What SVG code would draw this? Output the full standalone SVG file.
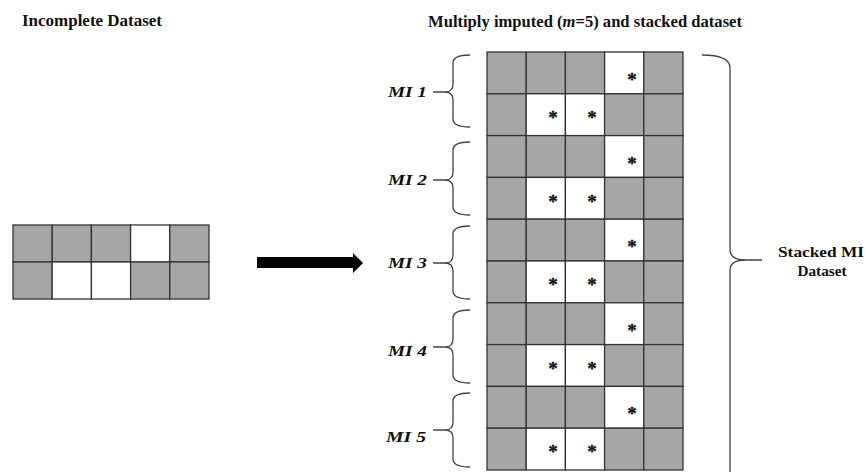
<svg xmlns="http://www.w3.org/2000/svg" width="865" height="472" viewBox="0 0 865 472">
<style>
.g{fill:#a6a6a6;stroke:#333;stroke-width:1.3}
.w{fill:#fff;stroke:#333;stroke-width:1.3}
.t{font-family:"Liberation Serif","DejaVu Serif",serif;font-weight:bold;fill:#111}
.lab{font-family:"Liberation Serif","DejaVu Serif",serif;font-weight:bold;font-style:italic;font-size:15px;fill:#111}
.st{font-family:"Liberation Serif","DejaVu Serif",serif;font-weight:bold;font-size:19px;fill:#111;stroke:#111;stroke-width:0.3;text-anchor:middle}
.br{fill:none;stroke:#444;stroke-width:1.3}
</style>
<rect width="865" height="472" fill="#fff"/>
<g id="titles">
<text class="t" x="22" y="26" font-size="16" textLength="140" lengthAdjust="spacingAndGlyphs">Incomplete Dataset</text>
<text class="t" x="428" y="27" font-size="16" textLength="314" lengthAdjust="spacingAndGlyphs">Multiply imputed (<tspan font-style="italic">m</tspan>=5) and stacked dataset</text>
</g>
<g id="incomplete">
<rect class="g" x="13" y="225" width="39.2" height="37"/>
<rect class="g" x="52.2" y="225" width="39.2" height="37"/>
<rect class="g" x="91.4" y="225" width="39.2" height="37"/>
<rect class="w" x="130.6" y="225" width="39.2" height="37"/>
<rect class="g" x="169.8" y="225" width="39.2" height="37"/>
<rect class="g" x="13" y="262" width="39.2" height="37"/>
<rect class="w" x="52.2" y="262" width="39.2" height="37"/>
<rect class="w" x="91.4" y="262" width="39.2" height="37"/>
<rect class="g" x="130.6" y="262" width="39.2" height="37"/>
<rect class="g" x="169.8" y="262" width="39.2" height="37"/>
</g>
<g id="mi1">
<rect class="g" x="487" y="52" width="39.2" height="41.8"/><rect class="g" x="526.2" y="52" width="39.2" height="41.8"/><rect class="g" x="565.4" y="52" width="39.2" height="41.8"/><rect class="w" x="604.6" y="52" width="39.2" height="41.8"/><rect class="g" x="643.8" y="52" width="39.2" height="41.8"/>
<rect class="g" x="487" y="93.8" width="39.2" height="41.8"/><rect class="w" x="526.2" y="93.8" width="39.2" height="41.8"/><rect class="w" x="565.4" y="93.8" width="39.2" height="41.8"/><rect class="g" x="604.6" y="93.8" width="39.2" height="41.8"/><rect class="g" x="643.8" y="93.8" width="39.2" height="41.8"/>
<text class="st" x="632" y="86">*</text><text class="st" x="553" y="124">*</text><text class="st" x="592" y="124">*</text>
<text class="lab" x="388" y="97" textLength="39" lengthAdjust="spacingAndGlyphs">MI 1</text>
</g>
<g id="mi2">
<rect class="g" x="487" y="135.6" width="39.2" height="41.8"/><rect class="g" x="526.2" y="135.6" width="39.2" height="41.8"/><rect class="g" x="565.4" y="135.6" width="39.2" height="41.8"/><rect class="w" x="604.6" y="135.6" width="39.2" height="41.8"/><rect class="g" x="643.8" y="135.6" width="39.2" height="41.8"/>
<rect class="g" x="487" y="177.4" width="39.2" height="41.8"/><rect class="w" x="526.2" y="177.4" width="39.2" height="41.8"/><rect class="w" x="565.4" y="177.4" width="39.2" height="41.8"/><rect class="g" x="604.6" y="177.4" width="39.2" height="41.8"/><rect class="g" x="643.8" y="177.4" width="39.2" height="41.8"/>
<text class="st" x="632" y="169.6">*</text><text class="st" x="553" y="207.6">*</text><text class="st" x="592" y="207.6">*</text>
<text class="lab" x="388" y="185" textLength="39" lengthAdjust="spacingAndGlyphs">MI 2</text>
</g>
<g id="mi3">
<rect class="g" x="487" y="219.2" width="39.2" height="41.8"/><rect class="g" x="526.2" y="219.2" width="39.2" height="41.8"/><rect class="g" x="565.4" y="219.2" width="39.2" height="41.8"/><rect class="w" x="604.6" y="219.2" width="39.2" height="41.8"/><rect class="g" x="643.8" y="219.2" width="39.2" height="41.8"/>
<rect class="g" x="487" y="261" width="39.2" height="41.8"/><rect class="w" x="526.2" y="261" width="39.2" height="41.8"/><rect class="w" x="565.4" y="261" width="39.2" height="41.8"/><rect class="g" x="604.6" y="261" width="39.2" height="41.8"/><rect class="g" x="643.8" y="261" width="39.2" height="41.8"/>
<text class="st" x="632" y="253.2">*</text><text class="st" x="553" y="291.2">*</text><text class="st" x="592" y="291.2">*</text>
<text class="lab" x="388" y="268" textLength="39" lengthAdjust="spacingAndGlyphs">MI 3</text>
</g>
<g id="mi4">
<rect class="g" x="487" y="302.8" width="39.2" height="41.8"/><rect class="g" x="526.2" y="302.8" width="39.2" height="41.8"/><rect class="g" x="565.4" y="302.8" width="39.2" height="41.8"/><rect class="w" x="604.6" y="302.8" width="39.2" height="41.8"/><rect class="g" x="643.8" y="302.8" width="39.2" height="41.8"/>
<rect class="g" x="487" y="344.6" width="39.2" height="41.8"/><rect class="w" x="526.2" y="344.6" width="39.2" height="41.8"/><rect class="w" x="565.4" y="344.6" width="39.2" height="41.8"/><rect class="g" x="604.6" y="344.6" width="39.2" height="41.8"/><rect class="g" x="643.8" y="344.6" width="39.2" height="41.8"/>
<text class="st" x="632" y="336.8">*</text><text class="st" x="553" y="374.8">*</text><text class="st" x="592" y="374.8">*</text>
<text class="lab" x="388" y="356" textLength="39" lengthAdjust="spacingAndGlyphs">MI 4</text>
</g>
<g id="mi5">
<rect class="g" x="487" y="386.4" width="39.2" height="41.8"/><rect class="g" x="526.2" y="386.4" width="39.2" height="41.8"/><rect class="g" x="565.4" y="386.4" width="39.2" height="41.8"/><rect class="w" x="604.6" y="386.4" width="39.2" height="41.8"/><rect class="g" x="643.8" y="386.4" width="39.2" height="41.8"/>
<rect class="g" x="487" y="428.2" width="39.2" height="41.8"/><rect class="w" x="526.2" y="428.2" width="39.2" height="41.8"/><rect class="w" x="565.4" y="428.2" width="39.2" height="41.8"/><rect class="g" x="604.6" y="428.2" width="39.2" height="41.8"/><rect class="g" x="643.8" y="428.2" width="39.2" height="41.8"/>
<text class="st" x="632" y="420.4">*</text><text class="st" x="553" y="458.4">*</text><text class="st" x="592" y="458.4">*</text>
<text class="lab" x="386" y="442" textLength="40" lengthAdjust="spacingAndGlyphs">MI 5</text>
</g>
<g id="stacked-label">
<text class="t" x="821" y="257" font-size="15" text-anchor="middle" textLength="86" lengthAdjust="spacingAndGlyphs">Stacked MI</text>
<text class="t" x="822" y="276" font-size="15" text-anchor="middle" textLength="49" lengthAdjust="spacingAndGlyphs">Dataset</text>
</g>
<g id="connectors">
<polygon points="257,257 353,257 353,253 363,263 353,273 353,268 257,268" fill="#000"/>
<path class="br" d="M470,55 Q453,55 453,63 L453,84 Q453,92 445,92 Q453,92 453,100 L453,119 Q453,127 470,127 M433,92 H445"/>
<path class="br" d="M470,142 Q453,142 453,150 L453,172 Q453,180 445,180 Q453,180 453,188 L453,207 Q453,215 470,215 M433,180 H445"/>
<path class="br" d="M470,226 Q453,226 453,234 L453,255 Q453,263 445,263 Q453,263 453,271 L453,291 Q453,299 470,299 M433,263 H445"/>
<path class="br" d="M470,310 Q453,310 453,318 L453,339 Q453,347 445,347 Q453,347 453,355 L453,375 Q453,383 470,383 M433,347 H445"/>
<path class="br" d="M470,393 Q453,393 453,401 L453,422 Q453,430 445,430 Q453,430 453,438 L453,459 Q453,467 470,467 M433,430 H445"/>
<path class="br" d="M702,55 Q730,55 730,68 L730,250 Q730,260 746,260 L762,260 M746,260 Q730,260 730,270 L730,480"/>
</g>
</svg>
